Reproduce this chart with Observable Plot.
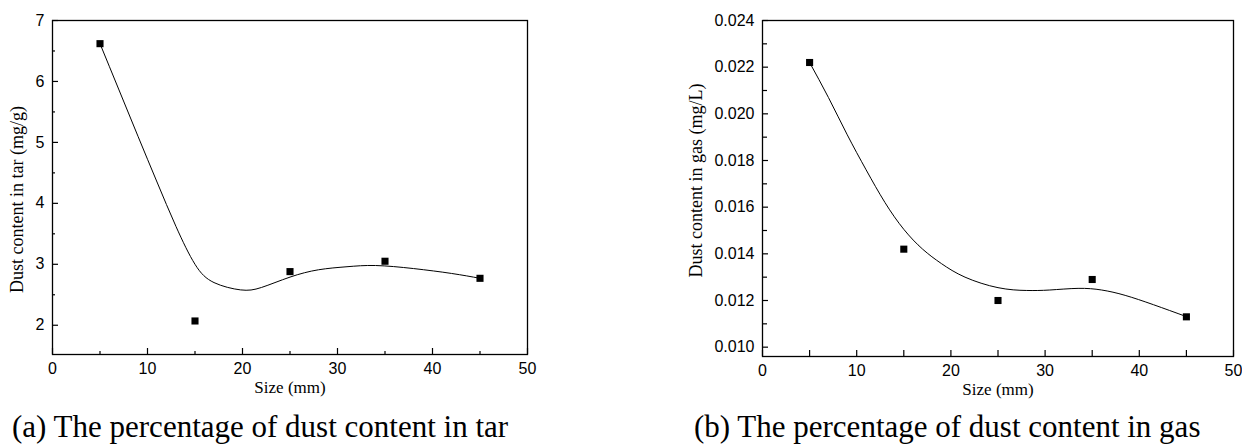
<!DOCTYPE html>
<html>
<head>
<meta charset="utf-8">
<script src="https://cdn.jsdelivr.net/npm/d3@7"></script>
<script src="https://cdn.jsdelivr.net/npm/@observablehq/plot@0.6"></script>
<style>
  html, body { margin: 0; padding: 0; background: #fff; }
  #wrap { position: relative; width: 1242px; height: 446px; background: #fff; overflow: hidden; }
  .panel { position: absolute; top: 0; }
  .caption { position: absolute; font-family: "Liberation Serif", "Times New Roman", serif; font-size: 31px; line-height: 31px; color: #000; white-space: nowrap; }
</style>
</head>
<body>
<div id="wrap"></div>
<script>
// ---- data ----
const sizes = [5, 15, 25, 35, 45];
const tarDust = [6.62, 2.07, 2.88, 3.05, 2.77];
const gasDust = [0.0222, 0.0142, 0.0120, 0.0129, 0.0113];

// fitted curves
const tarFitX = [5, 7, 9, 11, 13, 15, 17, 19.8, 22, 25, 28, 31, 34, 38, 42, 45];
const tarFitY = [6.62, 5.86, 5.10, 4.35, 3.62, 3.00, 2.70, 2.58, 2.62, 2.79, 2.91, 2.96, 2.98, 2.93, 2.85, 2.77];
const gasFitX = [5, 7, 9, 11, 13, 15, 17, 19, 21.5, 25, 28, 30.5, 33.5, 36, 38.5, 41.5, 45];
const gasFitY = [0.0222, 0.0207, 0.0191, 0.0176, 0.0162, 0.01505, 0.0142, 0.01358, 0.01300, 0.01255, 0.01243, 0.01245, 0.01252, 0.01245, 0.01222, 0.01182, 0.01131];

const xTicks = [0, 10, 20, 30, 40, 50];
const xMinorTicks = [5, 15, 25, 35, 45];
const tarTicks = [2, 3, 4, 5, 6, 7];
const tarMinorTicks = [2.5, 3.5, 4.5, 5.5, 6.5];
const gasTicks = [0.010, 0.012, 0.014, 0.016, 0.018, 0.020, 0.022, 0.024];
const gasMinorTicks = [0.011, 0.013, 0.015, 0.017, 0.019, 0.021, 0.023];

const xTitle = "Size (mm)";
const tarTitle = "Dust content in tar (mg/g)";
const gasTitle = "Dust content in gas (mg/L)";
const captionA = "(a) The percentage of dust content in tar";
const captionB = "(b) The percentage of dust content in gas";

const sans = "'Liberation Sans', Arial, Helvetica, sans-serif";
const serif = "'Liberation Serif', 'Times New Roman', serif";

function panel({left, width, marginLeft, marginRight, marginBottom, yDomain, yTicks, yMinor, yMinorSize, xMinorSize, yFormat, points, fitX, fitY, yTitle, yTitleDx, yTitleDy}) {
  const pts = sizes.map((s, i) => ({x: s, y: points[i]}));
  const fit = fitX.map((x, i) => ({x, y: fitY[i]}));
  const blank = () => "";
  const chart = Plot.plot({
    width, height: 446,
    marginLeft, marginRight, marginTop: 20, marginBottom,
    style: {fontFamily: sans, fontSize: "16px", color: "#000", background: "#fff"},
    x: {domain: [0, 50]},
    y: {domain: yDomain},
    marks: [
      Plot.axisX({ticks: xTicks, tickSize: 0, tickPadding: 8, label: null, fontSize: 16, fontFamily: sans}),
      Plot.axisX({ticks: xTicks, tickSize: -6, tickFormat: blank, label: null, strokeWidth: 1.2}),
      Plot.axisX({ticks: xMinorTicks, tickSize: -xMinorSize, tickFormat: blank, label: null, strokeWidth: 1.2}),
      Plot.axisY({ticks: yTicks, tickSize: 0, tickPadding: 8, tickFormat: yFormat, label: null, fontSize: 16, fontFamily: sans}),
      Plot.axisY({ticks: yTicks, tickSize: -6, tickFormat: blank, label: null, strokeWidth: 1.2}),
      Plot.axisY({ticks: yMinor, tickSize: -yMinorSize, tickFormat: blank, label: null, strokeWidth: 1.2}),
      Plot.frame({stroke: "#000", strokeWidth: 1.3}),
      Plot.line(fit, {x: "x", y: "y", curve: "natural", stroke: "#000", strokeWidth: 1}),
      Plot.dot(pts, {x: "x", y: "y", symbol: "square", r: 4, fill: "#000", stroke: "none"}),
      Plot.text([xTitle], {frameAnchor: "bottom", dy: 38, fontFamily: serif, fontSize: 17, fill: "#000"}),
      Plot.text([yTitle], {frameAnchor: "left", textAnchor: "middle", rotate: -90, dx: yTitleDx, dy: yTitleDy, fontFamily: serif, fontSize: 18, fill: "#000"})
    ]
  });
  chart.classList.add("panel");
  chart.style.left = left + "px";
  return chart;
}

const wrap = document.getElementById("wrap");
wrap.appendChild(panel({
  left: 0, width: 560, marginLeft: 52, marginRight: 33, marginBottom: 92,
  yDomain: [1.52, 7], yTicks: tarTicks, yMinor: tarMinorTicks, yMinorSize: 3, xMinorSize: 3,
  yFormat: d3.format("d"), points: tarDust, fitX: tarFitX, fitY: tarFitY,
  yTitle: tarTitle, yTitleDx: -35, yTitleDy: 12
}));
wrap.appendChild(panel({
  left: 620, width: 622, marginLeft: 142, marginRight: 9, marginBottom: 90,
  yDomain: [0.0096, 0.024], yTicks: gasTicks, yMinor: gasMinorTicks, yMinorSize: 5, xMinorSize: 6,
  yFormat: d3.format(".3f"), points: gasDust, fitX: gasFitX, fitY: gasFitY,
  yTitle: gasTitle, yTitleDx: -66, yTitleDy: -8
}));

function caption(text, left) {
  const d = document.createElement("div");
  d.className = "caption";
  d.textContent = text;
  d.style.left = left + "px";
  d.style.top = "411px";
  wrap.appendChild(d);
}
caption(captionA, 12);
caption(captionB, 694);
</script>
</body>
</html>
